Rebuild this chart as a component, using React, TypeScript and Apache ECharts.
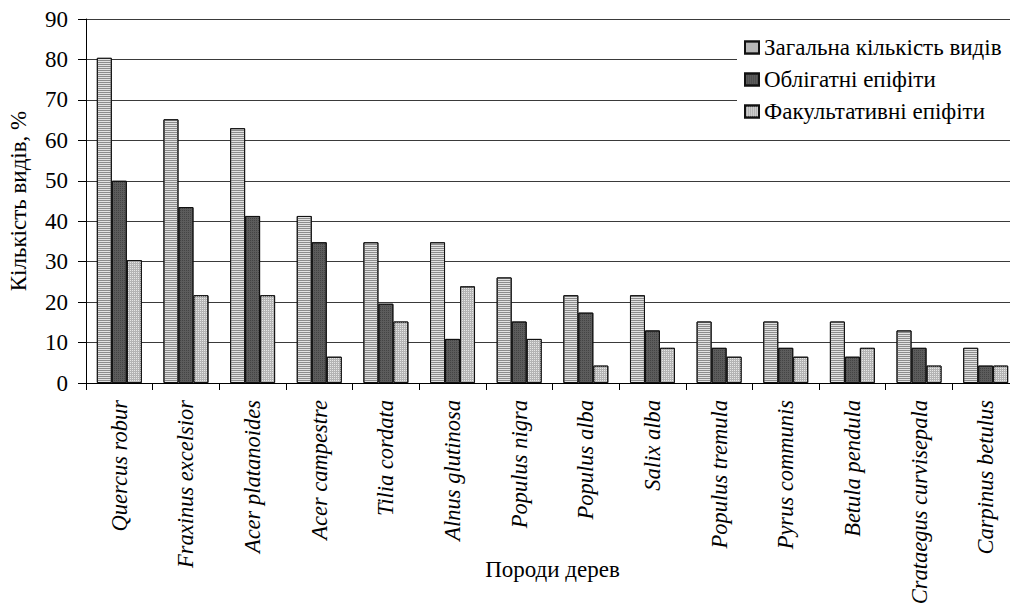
import React, { useEffect, useRef } from "react";
import * as echarts from "echarts";

const categories = [
  "Quercus robur",
  "Fraxinus excelsior",
  "Acer platanoides",
  "Acer campestre",
  "Tilia cordata",
  "Alnus glutinosa",
  "Populus nigra",
  "Populus alba",
  "Salix alba",
  "Populus tremula",
  "Pyrus communis",
  "Betula pendula",
  "Crataegus curvisepala",
  "Carpinus betulus",
];

const seriesNames = [
  "Загальна кількість видів",
  "Облігатні епіфіти",
  "Факультативні епіфіти",
];

const totalSpecies = [80.4, 65.2, 63.0, 41.3, 34.8, 34.8, 26.1, 21.7, 21.7, 15.2, 15.2, 15.2, 13.0, 8.7];
const obligate = [50.0, 43.5, 41.3, 34.8, 19.6, 10.9, 15.2, 17.4, 13.0, 8.7, 8.7, 6.5, 8.7, 4.3];
const facultative = [30.4, 21.7, 21.7, 6.5, 15.2, 23.9, 10.9, 4.3, 8.7, 6.5, 6.5, 8.7, 4.3, 4.3];

const yMin = 0;
const yMax = 90;
const yStep = 10;

const FONT = "Liberation Serif, Times New Roman, serif";
const FS = 23;

export default function App() {
  const ref = useRef<HTMLDivElement>(null);

  useEffect(() => {
    if (!ref.current) return;
    const chart = echarts.init(ref.current, null, { renderer: "svg" });

    const barBase = {
      type: "bar" as const,
      barGap: "0%",
      barCategoryGap: "32.5%",
    };

    chart.setOption({
      animation: false,
      backgroundColor: "#fff",
      textStyle: { fontFamily: FONT, color: "#000" },
      grid: {
        left: 86,
        top: 19,
        right: -9,
        bottom: 231,
        containLabel: false,
        outerBoundsMode: "none",
      },
      legend: {
        orient: "vertical",
        left: 737,
        top: 21,
        backgroundColor: "#fff",
        padding: [15, 10, 15, 7],
        itemGap: 9,
        itemWidth: 14,
        itemHeight: 12,
        icon: "rect",
        textStyle: { fontFamily: FONT, fontSize: FS, color: "#000" },
        data: seriesNames,
      },
      xAxis: {
        type: "category",
        data: categories,
        boundaryGap: true,
        axisLine: { lineStyle: { color: "#000", width: 1 } },
        axisTick: { show: true, length: 7, alignWithLabel: false, lineStyle: { color: "#000" } },
        axisLabel: {
          rotate: 90,
          interval: 0,
          margin: 17,
          fontFamily: FONT,
          fontStyle: "italic",
          fontSize: 22.5,
          color: "#000",
        },
        name: "Породи дерев",
        nameLocation: "middle",
        nameGap: 175,
        nameMoveOverlap: false,
        nameTextStyle: { fontFamily: FONT, fontSize: FS, color: "#000" },
        splitLine: { show: false },
      },
      yAxis: {
        type: "value",
        min: yMin,
        max: yMax,
        interval: yStep,
        axisLine: { show: true, lineStyle: { color: "#000", width: 1 } },
        axisTick: { show: true, length: 8, lineStyle: { color: "#000" } },
        axisLabel: {
          margin: 18,
          fontFamily: FONT,
          fontSize: FS,
          color: "#000",
        },
        splitLine: { show: true, lineStyle: { color: "#3a3a3a", width: 1 } },
        name: "Кількість видів, %",
        nameLocation: "middle",
        nameGap: 56,
        nameRotate: 90,
        nameMoveOverlap: false,
        nameTextStyle: { fontFamily: FONT, fontSize: FS, color: "#000" },
      },
      series: [
        {
          ...barBase,
          name: seriesNames[0],
          data: totalSpecies,
          itemStyle: {
            color: "#e2e2e2",
            borderColor: "#111",
            borderWidth: 1,
            decal: {
              symbol: "rect",
              symbolSize: 1,
              color: "#8c8c8c",
              dashArrayX: [1, 0],
              dashArrayY: [1, 1],
              rotation: 0,
            },
          },
        },
        {
          ...barBase,
          name: seriesNames[1],
          data: obligate,
          itemStyle: {
            color: "#5c5c5c",
            borderColor: "#111",
            borderWidth: 1,
            decal: {
              symbol: "rect",
              symbolSize: 1,
              color: "#444",
              dashArrayX: [1, 1],
              dashArrayY: [1, 1],
              rotation: 0,
            },
          },
        },
        {
          ...barBase,
          name: seriesNames[2],
          data: facultative,
          itemStyle: {
            color: "#b4b4b4",
            borderColor: "#111",
            borderWidth: 1,
            decal: {
              symbol: "rect",
              symbolSize: 1,
              color: "#e6e6e6",
              dashArrayX: [1, 1],
              dashArrayY: [1, 1],
              rotation: 0,
            },
          },
        },
      ],
    });

    return () => chart.dispose();
  }, []);

  return (
    <div
      ref={ref}
      style={{ position: "fixed", left: 0, top: 0, width: 1010, height: 614 }}
    />
  );
}
